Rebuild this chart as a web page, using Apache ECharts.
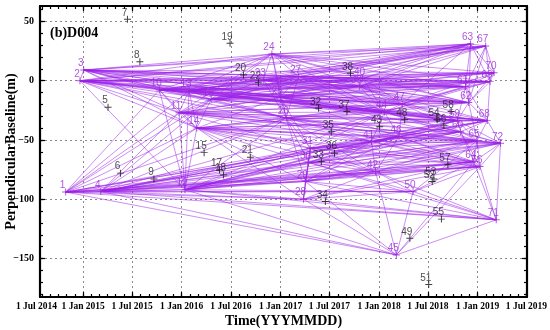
<!DOCTYPE html>
<html><head><meta charset="utf-8">
<script src="https://cdn.jsdelivr.net/npm/echarts@6/dist/echarts.min.js"></script>
<style>html,body{margin:0;padding:0;background:#fff}#c{width:550px;height:330px}</style>
</head><body><div id="c"></div>
<script>
// ---- data ----
const pointIds = [1,2,3,4,5,6,7,8,9,10,11,12,13,14,15,16,17,18,19,20,21,22,23,24,25,26,27,28,29,30,31,32,33,34,35,36,37,38,39,40,41,42,43,44,45,46,47,48,49,50,51,52,53,54,55,56,57,58,59,60,61,62,63,64,65,66,67,68,69,70,71,72];
const acqDates = ['2014-10-28','2014-12-20','2015-01-03','2015-03-07','2015-04-03','2015-05-19','2015-06-14','2015-07-30','2015-09-20','2015-10-10',
 '2015-12-22','2016-01-13','2016-01-28','2016-02-26','2016-03-24','2016-04-19','2016-05-20','2016-06-04','2016-06-28','2016-08-17',
 '2016-09-11','2016-10-11','2016-10-29','2016-11-30','2016-12-31','2017-01-22','2017-03-09','2017-03-27','2017-04-03','2017-04-15',
 '2017-04-21','2017-05-22','2017-06-01','2017-06-16','2017-07-08','2017-07-20','2017-09-04','2017-09-17','2017-10-20','2017-11-01',
 '2017-12-04','2017-12-19','2018-01-03','2018-01-21','2018-03-06','2018-03-16','2018-03-28','2018-04-06','2018-04-25','2018-05-07',
 '2018-07-04','2018-07-17','2018-07-23','2018-08-04','2018-08-20','2018-08-29','2018-09-13','2018-09-25','2018-10-18','2018-10-30',
 '2018-11-17','2018-11-29','2018-12-06','2018-12-18','2018-12-30','2019-01-10','2019-01-31','2019-02-06','2019-02-16','2019-03-03',
 '2019-03-11','2019-03-27'];
const perpBaseline = [-94,0,9,-93.6,-22.4,-78,51.8,16,-82.9,-7.8,
 -27,-92,-8.4,-40,-60.7,-15.7,-75.3,-79.5,31.5,4.8,
 -64.6,-1.7,0.5,22.5,-14,-31.5,3.4,-100,-85,-69,
 -57,-23.3,-68.3,-102,-43,-61.2,-26,6.2,-5,2,
 -51.4,-76.7,-38.8,-26.5,-147,-47.2,-19.6,-33,-133,-93.6,
 -172,-85,-83,-33,-116.8,-38,-71,-26,-33.7,-43,
 -5,-18.5,31,-68.3,-50.6,-72.5,29.2,-33.7,-0.8,6.7,
 -117.4,-52.8];
const networkIds = [1,2,3,4,10,11,12,13,14,16,23,24,25,26,27,28,29,30,31,39,40,41,42,44,45,46,47,50,59,60,61,62,63,64,65,66,67,68,69,70,71,72];
const networkLinks = [
 [1, [4,10,11,12,13,14,16,26,28,29,30,31,41,42,45,46,50,64,66,71]],
 [2, [3,10,11,12,13,14,16,23,24,25,26,27,39,40,41,44,47,59,61,62,63,67,68,69,70]],
 [3, [10,11,13,14,16,23,24,25,26,27,39,40,44,47,61,62,63,67,69,70]],
 [4, [11,12,14,16,26,28,29,30,31,41,42,44,45,46,50,59,60,64,65,66,68,71,72]],
 [10, [11,12,13,14,16,23,24,25,26,27,39,40,44,47,59,61,62,63,67,68,69,70]],
 [11, [12,13,14,16,24,25,26,27,31,39,41,44,46,47,59,60,61,62,65,68,72]],
 [12, [13,14,26,28,29,30,31,41,42,44,45,46,50,59,60,64,65,66,68,71,72]],
 [13, [14,16,23,24,25,26,27,39,40,44,47,59,61,62,63,67,68,69,70]],
 [14, [16,25,26,28,29,30,31,41,42,44,46,47,59,60,64,65,66,68,72]],
 [16, [23,24,25,26,27,39,40,44,47,59,61,62,63,67,68,69,70]],
 [23, [24,25,26,27,39,40,44,47,61,62,63,67,69,70]],
 [24, [25,26,27,39,40,44,61,62,63,67,69,70]],
 [25, [26,27,31,39,40,44,46,47,59,60,61,62,63,65,68,69]],
 [26, [27,29,30,31,41,42,44,46,47,59,60,62,64,65,68,72]],
 [27, [39,40,44,47,61,62,63,67,69,70]],
 [28, [29,30,31,42,45,50,64,66,71]],
 [29, [30,31,41,42,45,46,50,64,65,66,71,72]],
 [30, [31,41,42,46,50,60,64,65,66,71,72]],
 [31, [41,42,44,46,59,60,64,65,66,68,72]],
 [39, [40,44,47,59,61,62,63,67,68,69,70]],
 [40, [44,47,61,62,63,67,69,70]],
 [41, [42,44,46,59,60,64,65,66,68,72]],
 [42, [45,46,50,64,65,66,71,72]],
 [44, [46,47,59,60,61,62,65,68,69,72]],
 [45, [50,64,66,71]],
 [46, [47,59,60,64,65,66,68,72]],
 [47, [59,60,61,62,63,68,69,70]],
 [50, [64,65,66,71]],
 [59, [60,61,62,65,68,72]],
 [60, [64,65,66,68,72]],
 [61, [62,63,67,68,69,70]],
 [62, [63,65,67,68,69,70]],
 [63, [67,69,70]],
 [64, [65,66,71,72]],
 [65, [66,68,72]],
 [66, [71,72]],
 [67, [69,70]],
 [68, [69,72]],
 [69, [70]],
 [71, [72]]
];
const xTickDates = ['2014-07-01','2015-01-01','2015-07-01','2016-01-01','2016-07-01','2017-01-01','2017-07-01','2018-01-01','2018-07-01','2019-01-01','2019-07-01'];
const xTickLabels = ['1 Jul 2014','1 Jan 2015','1 Jul 2015','1 Jan 2016','1 Jul 2016','1 Jan 2017','1 Jul 2017','1 Jan 2018','1 Jul 2018','1 Jan 2019','1 Jul 2019'];
const yTickValues = [-150,-100,-50,0,50];
const xRange = ['2014-07-25','2019-07-03'];
const yRange = [-182.5, 63];

// ---- build ----
const T = s => Date.parse(s + 'T00:00:00Z');
const xMin = T(xRange[0]), xMax = T(xRange[1]);
const pos = {};
pointIds.forEach((id, i) => { pos[id] = [T(acqDates[i]), perpBaseline[i]]; });
const netSet = new Set(networkIds);
const xMajor = xTickDates.map(T).filter(v => v >= xMin && v <= xMax);
const xLabelVals = xTickDates.map(d => Math.max(T(d), xMin));
const xLabelMap = {};
xLabelVals.forEach((v, i) => { xLabelMap[v] = (T(xTickDates[i]) < xMin) ? '{s|' + xTickLabels[i] + '}' : xTickLabels[i]; });
const xMinor = [];
for (let y = 2014; y <= 2019; y++) for (let m = 1; m <= 12; m++) {
  const v = Date.UTC(y, m - 1, 1); if (v >= xMin && v <= xMax) xMinor.push(v);
}
const yMinor = []; for (let v = -180; v <= 60; v += 10) yMinor.push(v);

const lineData = [];
networkLinks.forEach(([a, list]) => list.forEach(b => lineData.push({ coords: [pos[a], pos[b]] })));

const plusSym = 'path://M0,4.3H10V5.7H0Z M4.3,0H5.7V10H4.3Z';
const purple = '#9a2bd6';
const serif = 'Liberation Serif';
const grid = { left: 40, right: 23, top: 6, bottom: 33, containLabel: false, outerBoundsMode: 'none' };

const noLine = { show: false, onZero: false };
function xa(gi, position, ticks, len, opts) {
  return Object.assign({
    gridIndex: gi, type: 'value', min: xMin, max: xMax, position,
    axisLine: noLine, axisLabel: { show: false }, splitLine: { show: false },
    axisTick: { show: true, inside: true, length: len, customValues: ticks, lineStyle: { color: '#000', width: 1.2 } }
  }, opts || {});
}
function ya(gi, position, ticks, len, opts) {
  return Object.assign({
    gridIndex: gi, type: 'value', min: yRange[0], max: yRange[1], position,
    axisLine: noLine, axisLabel: { show: false }, splitLine: { show: false },
    axisTick: { show: true, inside: true, length: len, customValues: ticks, lineStyle: { color: '#000', width: 1.2 } }
  }, opts || {});
}
const axisLineStyle = { show: true, onZero: false, lineStyle: { color: '#000', width: 2.2 } };
const dotted = { show: true, lineStyle: { color: '#8a8a8a', width: 1, type: [2, 3] } };
const tickFont = { fontFamily: serif, fontWeight: 'bold', fontSize: 9.5, color: '#000' };

const option = {
  animation: false,
  backgroundColor: '#fff',
  title: { text: '(b)D004', left: 50, top: 26, padding: 0,
    textStyle: { fontFamily: serif, fontWeight: 'bold', fontSize: 14, color: '#000' } },
  grid: [grid, grid, grid, grid],
  xAxis: [
    xa(0, 'bottom', xMajor, 5, {
      axisLine: axisLineStyle, splitLine: dotted,
      axisLabel: Object.assign({ show: true, customValues: xLabelVals, margin: 5, formatter: v => xLabelMap[v] || '',
        showMinLabel: true, showMaxLabel: true, hideOverlap: false,
        rich: { s: Object.assign({ padding: [0, 7, 0, 0] }, tickFont) } }, tickFont),
      name: 'Time(YYYMMDD)', nameLocation: 'middle', nameGap: 17, nameMoveOverlap: false,
      nameTextStyle: { fontFamily: serif, fontWeight: 'bold', fontSize: 14, color: '#000' }
    }),
    xa(1, 'bottom', xMinor, 3),
    xa(2, 'top', xMajor, 5, { axisLine: axisLineStyle }),
    xa(3, 'top', xMinor, 3)
  ],
  yAxis: [
    ya(0, 'left', yTickValues, 5, {
      axisLine: axisLineStyle, splitLine: dotted,
      axisLabel: { show: true, customValues: yTickValues, margin: 6,
        formatter: v => v < 0 ? '\u2212' + Math.abs(v) : String(v),
        fontFamily: serif, fontWeight: 'bold', fontSize: 10, color: '#000' },
      name: 'PerpendicularBaseline(m)', nameLocation: 'middle', nameGap: 22, nameMoveOverlap: false,
      nameTextStyle: { fontFamily: serif, fontWeight: 'bold', fontSize: 14, color: '#000' }
    }),
    ya(1, 'left', yMinor, 3),
    ya(2, 'right', yTickValues, 5, { axisLine: axisLineStyle }),
    ya(3, 'right', yMinor, 3)
  ],
  series: [
    { type: 'lines', coordinateSystem: 'cartesian2d', xAxisIndex: 0, yAxisIndex: 0, silent: true, z: 2,
      data: lineData, lineStyle: { color: '#9b1fe8', width: 0.85, opacity: 0.6 } },
    { type: 'scatter', xAxisIndex: 0, yAxisIndex: 0, z: 4, symbol: plusSym, symbolSize: 7,
      data: pointIds.filter(id => !netSet.has(id)).map(id => [pos[id][0], pos[id][1], id]),
      itemStyle: { color: '#111' },
      label: { show: true, position: 'top', distance: 0, offset: [-3, 2], formatter: p => p.value[2],
        fontFamily: 'Liberation Sans', fontSize: 10, color: '#222' } },
    { type: 'scatter', xAxisIndex: 0, yAxisIndex: 0, z: 5, symbol: plusSym, symbolSize: 7,
      data: networkIds.map(id => [pos[id][0], pos[id][1], id]),
      itemStyle: { color: purple },
      label: { show: true, position: 'top', distance: 0, offset: [-3, 2], formatter: p => p.value[2],
        fontFamily: 'Liberation Sans', fontSize: 10, color: purple } }
  ]
};
echarts.init(document.getElementById('c'), null, { renderer: 'canvas' }).setOption(option);
</script>
</body></html>
